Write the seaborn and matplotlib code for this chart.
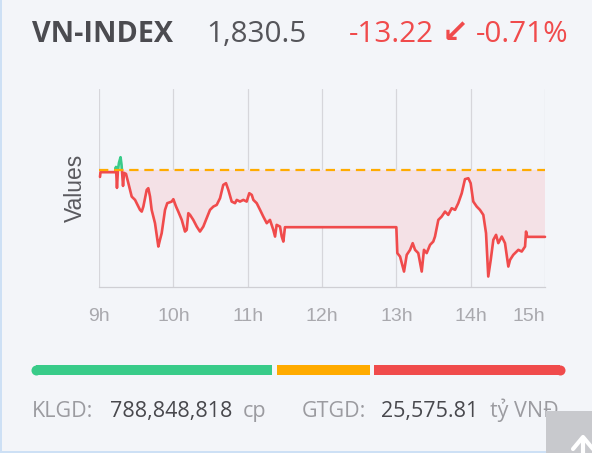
import numpy as np
import seaborn as sns
import matplotlib.pyplot as plt
from matplotlib.patches import Rectangle

# --- intraday VN-INDEX data (minutes after 09:00, index level) ---
minutes = [0.8, 1.2, 12.9, 13.7, 14.5, 15.3, 16.1, 17.4, 18.2, 18.6, 19.4, 20.2,
           21.8, 23.7, 26.4, 29.1, 30.4, 33.1, 34.5, 35.8, 38.5, 39.8, 41.2, 42.5,
           45.2, 47.9, 49.2, 50.6, 53.3, 55.1, 58.7, 60.0, 62.2, 64.0, 66.8, 69.4,
           70.8, 72.1, 73.5, 76.1, 78.9, 81.5, 84.2, 86.9, 89.6, 92.3, 95.0, 97.7,
           100.3, 102.5, 104.4, 107.1, 109.8, 111.2, 113.8, 116.5, 119.2, 121.3,
           123.3, 124.6, 127.3, 130.0, 132.6, 135.4, 138.0, 140.7, 142.1, 143.4,
           146.1, 147.5, 148.8, 150.1, 240.0, 240.8, 243.0, 246.2, 248.4, 251.1,
           253.2, 255.1, 257.7, 260.5, 262.3, 264.5, 267.2, 269.8, 271.2, 273.9,
           276.6, 279.3, 281.9, 284.7, 287.4, 290.0, 292.8, 295.4, 298.1, 300.0,
           302.1, 304.9, 307.5, 310.2, 312.4, 314.2, 316.2, 318.3, 320.5, 322.3,
           325.1, 327.7, 330.4, 331.8, 334.4, 338.5, 341.2, 343.9, 344.7, 345.7,
           360.0]
index_values = [1842.34, 1843.27, 1843.27, 1844.31, 1840.17, 1843.72, 1845.10,
                1846.23, 1844.71, 1843.33, 1840.56, 1843.13, 1842.93, 1841.10,
                1838.45, 1837.80, 1837.15, 1835.83, 1835.49, 1836.48, 1839.77,
                1840.11, 1838.45, 1835.83, 1833.20, 1828.59, 1829.91, 1831.23,
                1835.83, 1837.15, 1837.47, 1837.94, 1836.48, 1835.49, 1833.85,
                1831.55, 1831.88, 1835.18, 1834.84, 1833.85, 1832.53, 1831.55,
                1832.53, 1834.19, 1835.83, 1836.48, 1836.81, 1838.14, 1840.76,
                1841.10, 1839.77, 1837.47, 1837.15, 1837.80, 1837.47, 1837.80,
                1837.47, 1839.12, 1838.79, 1837.80, 1837.15, 1835.83, 1834.51,
                1833.20, 1833.85, 1831.88, 1830.56, 1832.87, 1832.53, 1830.56,
                1829.57, 1832.41, 1832.41, 1827.29, 1826.61, 1823.65, 1826.95,
                1827.94, 1829.26, 1827.94, 1827.29, 1823.65, 1827.94, 1827.29,
                1828.92, 1829.57, 1830.56, 1833.85, 1834.51, 1835.49, 1834.84,
                1836.16, 1835.83, 1837.15, 1839.12, 1841.89, 1842.08, 1841.10,
                1837.47, 1836.48, 1835.83, 1834.84, 1831.23, 1822.67, 1825.96,
                1829.91, 1830.90, 1829.26, 1830.56, 1829.26, 1824.64, 1825.96,
                1826.95, 1827.94, 1827.60, 1828.59, 1831.55, 1830.50, 1830.50]
ref_level = 1843.72
hour_ticks = [9, 10, 11, 12, 13, 14, 15]
hour_labels = ["9h", "10h", "11h", "12h", "13h", "14h", "15h"]

# market breadth: advancing / unchanged / declining
breadth_counts = [181, 70, 143]
breadth_colors = ["#38cb89", "#ffab00", "#f04b4c"]

index_name = "VN-INDEX"
index_last = "1,830.5"
change_pts, change_arrow, change_pct = "-13.22", "\u2199", "-0.71%"
volume_label, volume_value, volume_unit = "KLGD:", "788,848,818", "cp"
value_label, value_value, value_unit = "GTGD:", "25,575.81", "tỷ VNĐ"

BG = "#f3f5f9"
RED = "#f04b4c"
GREEN = "#38cb89"
W, H = 592, 453

sns.set_theme(style="white")
plt.rcParams["font.family"] = ["Open Sans", "DejaVu Sans"]


def fx(x):
    return x / W


def fy(y):
    return 1 - y / H


fig = plt.figure(figsize=(W / 100, H / 100), dpi=100, facecolor=BG)

# --- header ---
fig.text(fx(32), fy(41.5), index_name, fontsize=20.7, fontweight="bold",
         color="#4b4b50", va="baseline")
fig.text(fx(206.5), fy(41.5), index_last, fontsize=21.3, color="#55555a",
         va="baseline")
fig.text(fx(349), fy(41.5), change_pts, fontsize=21.3, color=RED, va="baseline")
fig.text(fx(442), fy(42.5), change_arrow, fontsize=23, color=RED, va="baseline",
         family=["DejaVu Sans"], fontweight="bold")
fig.text(fx(476), fy(41.5), change_pct, fontsize=21.3, color=RED, va="baseline")

# --- intraday chart ---
ax = fig.add_axes([fx(99), fy(287), 446 / W, 198 / H])
ax.set_facecolor(BG)
t = 9 + np.array(minutes) / 60
v = np.array(index_values)

ax.fill_between(t, v, ref_level, where=v <= ref_level, interpolate=True,
                color="#f4e1e6", lw=0, zorder=1)
ax.fill_between(t, v, ref_level, where=v >= ref_level, interpolate=True,
                color="#d5efe2", lw=0, zorder=1)

sns.lineplot(x=t, y=v, ax=ax, color=RED, lw=1.9, estimator=None, sort=False,
             zorder=2)
red_line = ax.lines[-1]
red_line.set_clip_path(Rectangle((8, 1700), 8, ref_level - 1700,
                                 transform=ax.transData))
green_line, = ax.plot(t, v, color=GREEN, lw=1.9, zorder=2)
green_line.set_clip_path(Rectangle((8, ref_level), 8, 200,
                                   transform=ax.transData))

ax.axhline(ref_level, color="#ffab00", lw=1.6, dashes=(4.2, 2.6), zorder=3)

ax.set_xlim(9, 15)
ax.set_ylim(1820.6, 1859.7)
ax.set_xticks(hour_ticks)
ax.set_xticklabels(hour_labels)
ax.set_yticks([])
ax.grid(axis="x", color="#d6d6db", lw=0.9)
ax.grid(axis="y", visible=False)
for side in ["top", "right", "left"]:
    ax.spines[side].set_visible(False)
ax.spines["bottom"].set_color("#cfcfd4")
ax.spines["bottom"].set_linewidth(0.9)
ax.tick_params(axis="x", length=0, pad=15, labelsize=14, labelcolor="#a9a9ae")
for lbl in ax.get_xticklabels():
    lbl.set_family("Liberation Sans")
ax.get_xticklabels()[-1].set_ha("right")
ax.set_xlabel("")
ax.set_ylabel("Values", fontsize=16.5, color="#5a5a5f", family="Liberation Sans")
ax.yaxis.set_label_coords(-0.028, 0.5)

# --- breadth bar ---
bx = fig.add_axes([fx(31), fy(375), 534 / W, 10 / H])
bx.set_axis_off()
gap = 3.2
total = sum(breadth_counts) + gap * 2
starts = [0, breadth_counts[0] + gap, breadth_counts[0] + breadth_counts[1] + 2 * gap]
r = 3.75
for i, (s, n, c) in enumerate(zip(starts, breadth_counts, breadth_colors)):
    left, width = s, n
    if i == 0:
        left, width = s + r, n - r
    if i == len(breadth_counts) - 1:
        width = n - r
    bx.barh(0, width, left=left, height=1, color=c, lw=0)
bx.scatter([r], [0], s=52, color=breadth_colors[0], lw=0, zorder=3)
bx.scatter([total - r], [0], s=52, color=breadth_colors[-1], lw=0, zorder=3)
bx.set_xlim(0, total)
bx.set_ylim(-0.5, 0.5)

# --- trading totals ---
fs = 15.5
fig.text(fx(32), fy(417), volume_label, fontsize=fs, color="#9b9ba0", va="baseline")
fig.text(fx(110), fy(417), volume_value, fontsize=fs, color="#48484d", va="baseline")
fig.text(fx(242.5), fy(417), volume_unit, fontsize=fs, color="#9b9ba0", va="baseline")
fig.text(fx(301.5), fy(417), value_label, fontsize=fs, color="#9b9ba0", va="baseline")
fig.text(fx(381), fy(417), value_value, fontsize=fs, color="#48484d", va="baseline")
fig.text(fx(490.5), fy(417), value_unit, fontsize=fs, color="#9b9ba0", va="baseline")

# --- page chrome: borders and scroll-to-top button ---
fig.patches.append(Rectangle((0, 0), fx(1.5), 1, transform=fig.transFigure,
                             color="#cde0f5", lw=0, zorder=4))
fig.patches.append(Rectangle((0, 0), 1, 2 / H, transform=fig.transFigure,
                             color="#cde0f5", lw=0, zorder=4))
fig.patches.append(Rectangle((fx(545.5), 0), 1 - fx(545.5), fy(411),
                             transform=fig.transFigure, color="#c8c9cd",
                             lw=0, zorder=5))
fig.lines.append(plt.Line2D([fx(573), fx(583), fx(593)], [fy(449), fy(437), fy(449)],
                            transform=fig.transFigure, color="white", lw=3,
                            zorder=6))
fig.lines.append(plt.Line2D([fx(583), fx(583)], [fy(438), fy(454)],
                            transform=fig.transFigure, color="white", lw=3,
                            zorder=6))

fig.savefig("out.png", dpi=100, facecolor=BG)
